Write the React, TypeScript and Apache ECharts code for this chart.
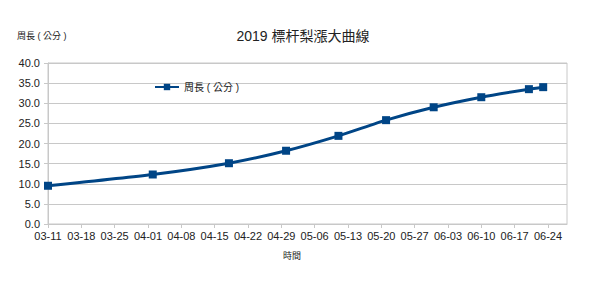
import React, { useEffect, useRef } from "react";
import * as echarts from "echarts";

const dates = ["2019-03-11", "2019-04-02", "2019-04-18", "2019-04-30", "2019-05-11", "2019-05-21", "2019-05-31", "2019-06-10", "2019-06-20", "2019-06-23"];
const girth = [9.5, 12.3, 15.1, 18.2, 21.9, 25.8, 29.0, 31.5, 33.5, 34.0];
const startDate = "2019-03-11";
const endDate = "2019-06-28";
const seriesName = "周長 ( 公分 )";
const title = "2019 標杆梨漲大曲線";
const xName = "時間";
const yName = "周長 ( 公分 )";

const DAY = 86400000;
const t0 = Date.parse(startDate + "T00:00:00Z");
const dayOf = (s: string) => Math.round((Date.parse(s + "T00:00:00Z") - t0) / DAY);
const fmt = (d: number) => {
  const dt = new Date(t0 + d * DAY);
  const m = String(dt.getUTCMonth() + 1).padStart(2, "0");
  const dd = String(dt.getUTCDate()).padStart(2, "0");
  return `${m}-${dd}`;
};

export default function App() {
  const ref = useRef<HTMLDivElement>(null);
  useEffect(() => {
    if (!ref.current) return;
    const chart = echarts.init(ref.current, null, { renderer: "svg" });
    const font = "'Liberation Sans', Arial, 'Noto Sans CJK TC', sans-serif";
    chart.setOption({
      animation: false,
      textStyle: { fontFamily: font },
      title: {
        text: title,
        left: 298,
        top: 24,
        textAlign: "center",
        textStyle: { fontSize: 14, fontWeight: "normal", color: "#222", fontFamily: font },
      },
      legend: {
        data: [seriesName],
        left: 149,
        top: 77,
        itemWidth: 24,
        itemHeight: 8,
        itemGap: 4,
        textStyle: { fontSize: 10, color: "#222", fontFamily: font },
      },
      grid: {
        left: 48,
        right: 27,
        top: 63,
        bottom: 76,
        show: true,
        borderColor: "#c8c8c8",
        borderWidth: 1,
      },
      graphic: [
        { type: "text", left: 17, top: 31, style: { text: yName, fontSize: 9, fill: "#222", fontFamily: font } },
        { type: "text", left: 283, top: 251, style: { text: xName, fontSize: 9, fill: "#222", fontFamily: font } },
      ],
      xAxis: {
        type: "value",
        min: 0,
        max: dayOf(endDate),
        interval: 7,
        axisLine: { show: true, lineStyle: { color: "#c8c8c8" } },
        axisTick: { show: true, length: 4, lineStyle: { color: "#c8c8c8" } },
        splitLine: { show: false },
        axisLabel: {
          fontSize: 11,
          color: "#222",
          margin: 6,
          showMaxLabel: false,
          formatter: (v: number) => (v % 7 === 0 ? fmt(v) : ""),
        },
      },
      yAxis: {
        type: "value",
        min: 0,
        max: 40,
        interval: 5,
        axisLine: { show: true, lineStyle: { color: "#c8c8c8" } },
        axisTick: { show: true, length: 4, lineStyle: { color: "#c8c8c8" } },
        splitLine: { show: true, lineStyle: { color: "#c8c8c8" } },
        axisLabel: {
          fontSize: 11,
          color: "#222",
          margin: 8,
          formatter: (v: number) => v.toFixed(1),
        },
      },
      series: [
        {
          name: seriesName,
          type: "line",
          data: dates.map((d, i) => [dayOf(d), girth[i]]),
          symbol: "rect",
          symbolSize: 8,
          smooth: 0.2,
          lineStyle: { color: "#004586", width: 3 },
          itemStyle: { color: "#004586" },
        },
      ],
    });
    return () => chart.dispose();
  }, []);
  return <div ref={ref} style={{ width: 594, height: 300, margin: -8, background: "#fff" }} />;
}
